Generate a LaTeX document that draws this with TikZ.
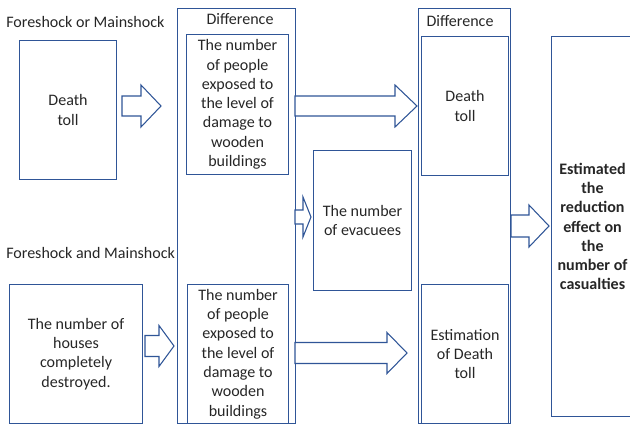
\documentclass[tikz,border=0pt]{standalone}
\usepackage{fontspec}
\setmainfont{Carlito}
\usetikzlibrary{calc}
\definecolor{boxblue}{RGB}{47,85,151}
\definecolor{txtgray}{RGB}{38,38,38}
\newdimen\pxu \pxu=0.025cm
\newcommand{\blockarr}[5]{%
  \draw[fatarr] let \p1=(#1), \p2=(#2) in
    (\x1,{\y1+#3*\pxu}) -- ({\x2-#5*\pxu},{\y1+#3*\pxu}) -- ({\x2-#5*\pxu},{\y1+#4*\pxu})
    -- (\x2,\y1) -- ({\x2-#5*\pxu},{\y1-#4*\pxu}) -- ({\x2-#5*\pxu},{\y1-#3*\pxu})
    -- (\x1,{\y1-#3*\pxu}) -- cycle;}

\begin{document}
\begin{tikzpicture}[x=0.025cm, y=-0.025cm, font=\fontsize{11.4}{13.7}\selectfont, text=txtgray]
    \tikzset{bigbox/.style={rectangle, draw=boxblue, line width=0.75pt, anchor=north west,
      inner sep=0pt}}
    \tikzset{txtbox/.style={rectangle, draw=boxblue, line width=0.75pt, anchor=north west,
      align=center, inner sep=0pt}}
    \tikzset{fatarr/.style={draw=boxblue, line width=0.75pt, fill=white, line join=miter}}
    \tikzset{lbl/.style={inner sep=0pt}}

    \useasboundingbox (0,0) rectangle (630,426);
    \clip (0,0) rectangle (630,426);

    % Case labels
    \node[lbl, anchor=west] (caseA) at (6,22) {Foreshock or Mainshock};
    \node[lbl, anchor=west] (caseB) at (6,253) {Foreshock and Mainshock};

    % Input boxes
    \node[txtbox, minimum width=97*\pxu, minimum height=139*\pxu] (deathA) at (19,40)
      {Death\\toll};
    \node[txtbox, minimum width=133*\pxu, minimum height=139*\pxu] (houses) at (9,284)
      {The number of\\houses\\completely\\destroyed.};

    % Difference box (left)
    \node[bigbox, minimum width=118*\pxu, minimum height=415*\pxu] (diffL) at (177,8) {};
    \node[lbl] (diffLlbl) at (240,19) {Difference};
    \node[txtbox, minimum width=102*\pxu, minimum height=140*\pxu] (expA) at (186,34)
      {The number\\of people\\exposed to\\the level of\\damage to\\wooden\\buildings};
    \node[txtbox, minimum width=101*\pxu, minimum height=139*\pxu] (expB) at (187,284)
      {The number\\of people\\exposed to\\the level of\\damage to\\wooden\\buildings};

    % Evacuees
    \node[txtbox, minimum width=98*\pxu, minimum height=140*\pxu] (evac) at (313,150)
      {The number\\of evacuees};

    % Difference box (right)
    \node[bigbox, minimum width=92*\pxu, minimum height=415*\pxu] (diffR) at (418,8) {};
    \node[lbl] (diffRlbl) at (460,21) {Difference};
    \node[txtbox, minimum width=87*\pxu, minimum height=139*\pxu] (deathB) at (421,36)
      {Death\\toll};
    \node[txtbox, minimum width=87*\pxu, minimum height=139*\pxu] (estDeath) at (421,284)
      {Estimation\\of Death\\toll};

    % Result box
    \node[txtbox, minimum width=82*\pxu, minimum height=380*\pxu, font=\fontsize{11.4}{13.7}\selectfont\bfseries]
      (result) at (551,36)
      {Estimated\\the\\reduction\\effect on\\the\\number of\\casualties};

    % Block arrows
    \coordinate (a1s) at (122,106);  \coordinate (a1e) at (161,106);
    \coordinate (a2s) at (295,106);  \coordinate (a2e) at (417,106);
    \coordinate (a3s) at (295,217);  \coordinate (a3e) at (311,217);
    \coordinate (a4s) at (145,346);  \coordinate (a4e) at (174,346);
    \coordinate (a5s) at (295,353);  \coordinate (a5e) at (407,353);
    \coordinate (a6s) at (511,226);  \coordinate (a6e) at (549,226);
    \blockarr{a1s}{a1e}{10}{21}{20}
    \blockarr{a2s}{a2e}{10}{21}{22}
    \blockarr{a3s}{a3e}{7}{20}{8}
    \blockarr{a4s}{a4e}{10.5}{20.5}{15}
    \blockarr{a5s}{a5e}{10.5}{20.5}{20}
    \blockarr{a6s}{a6e}{11}{21}{20}
\end{tikzpicture}
\end{document}
